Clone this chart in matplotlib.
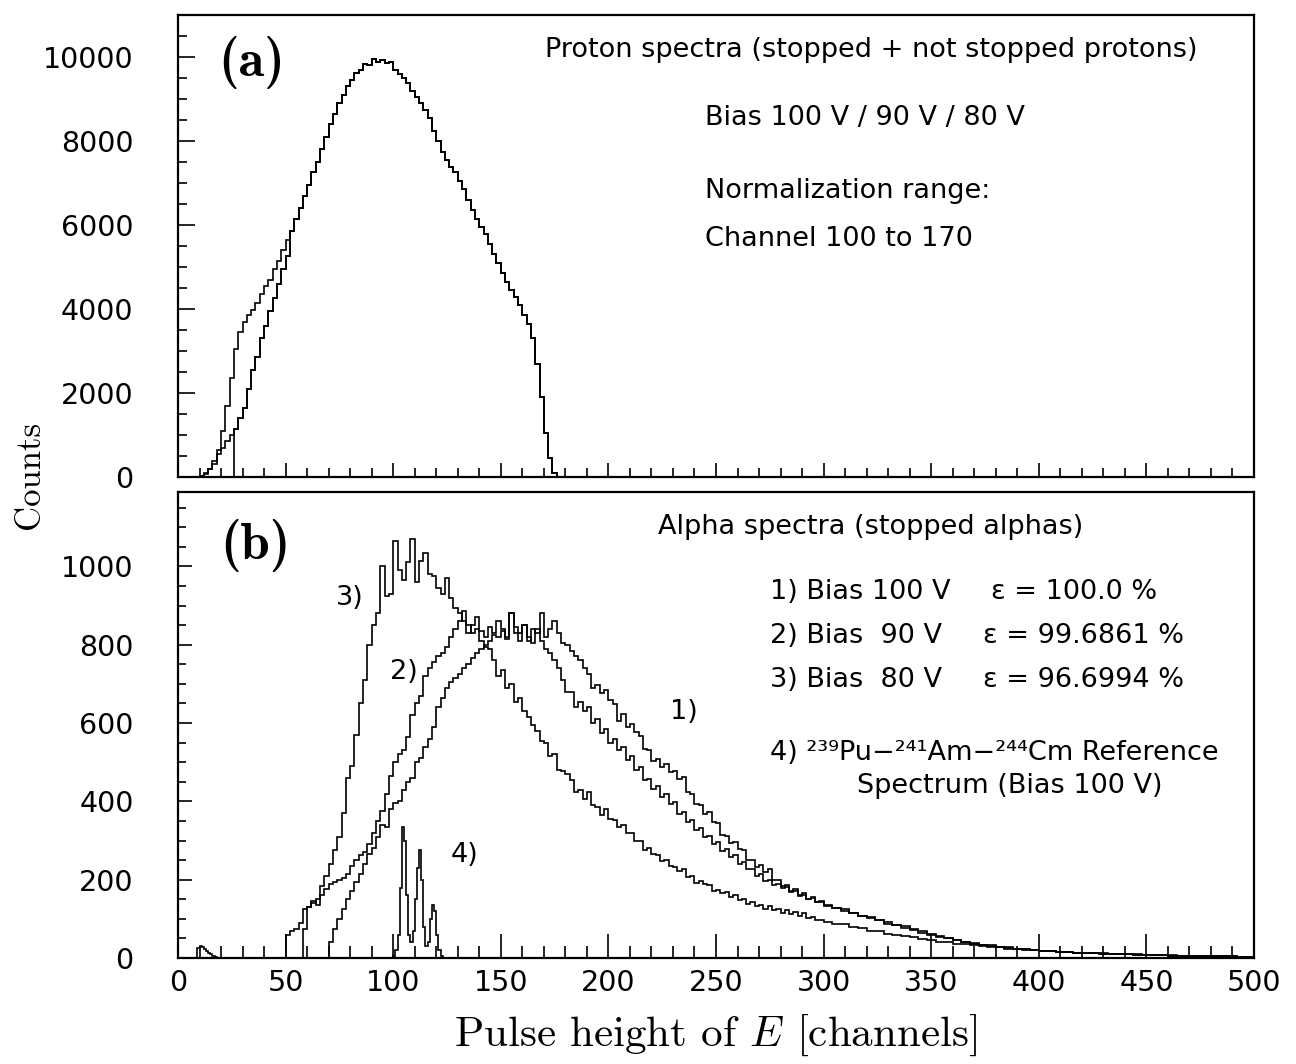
import numpy as np
import matplotlib
matplotlib.use("Agg")
import matplotlib.pyplot as plt
from matplotlib.ticker import MultipleLocator

# ---------------- data ----------------
# (a) proton spectra, 2-channel bins
proton_common_start = 52
proton_common = [5850, 6150, 6400, 6700, 6950, 7250, 7500, 7800, 8100, 8400,
                 8650, 8900, 9100, 9300, 9450, 9620, 9680, 9830, 9800, 9950,
                 9880, 9930, 9850, 9870, 9700, 9600, 9500, 9380, 9200, 9050,
                 8900, 8750, 8550, 8250, 8000, 7750, 7550, 7380, 7250, 7050,
                 6850, 6600, 6350, 6150, 5950, 5780, 5550, 5300, 5100, 4850,
                 4650, 4450, 4280, 4100, 3850, 3650, 3300, 2700, 1900, 1050,
                 450, 100]
proton_low_start = 8
proton_low_a = [0, 20, 80, 180, 300, 650, 1100, 1700, 2350, 3050, 3450, 3700,
                3850, 3980, 4150, 4350, 4550, 4700, 4950, 5150, 5400, 5650]
proton_low_b = [0, 20, 100, 200, 380, 550, 700, 850, 1000, 1150, 1400, 1650,
                2100, 2550, 2850, 3300, 3600, 3950, 4250, 4600, 4950, 5250]
proton_c_cut = 26  # 80 V curve begins here

# (b) alpha spectra, 2-channel bins up to channel 300, 4-channel bins after
alpha3_start = 50
alpha3 = [60, 70, 75, 90, 125, 130, 140, 150, 185, 210,
          240, 275, 310, 370, 460, 490, 570, 650, 710, 800,
          850, 880, 1000, 925, 930, 1065, 990, 965, 1010, 1070,
          960, 1015, 1035, 980, 975, 945, 930, 970, 920, 895,
          880, 860, 850, 830, 840, 810, 795, 790, 760, 720,
          735, 690, 700, 655, 665, 630, 615, 595, 580, 555,
          550, 515, 520, 480, 478, 470, 455, 425, 430, 405,
          425, 390, 385, 365, 380, 355, 352, 335, 340, 320,
          318, 300, 298, 276, 282, 265, 262, 248, 250, 236,
          232, 222, 226, 206, 210, 192, 196, 188, 186, 172,
          174, 165, 168, 155, 160, 148, 150, 138, 144, 132,
          136, 126, 132, 122, 126, 116, 122, 112, 118, 108,
          114, 102, 104, 96, 98]
alpha3_tail = [92, 86, 86, 78, 76, 70, 70, 62, 60, 55, 54, 48, 47, 42, 41, 36,
               35, 32, 31, 28, 27, 24, 23, 21, 20, 18, 17, 16, 15, 14, 13, 12,
               12, 10, 10, 9, 9, 8, 8, 7, 7, 6, 6, 5, 5, 5, 4, 4, 3, 3]

alpha2_start = 58
alpha2 = [75, 130, 145, 135, 160, 175, 190, 195, 200, 205,
          215, 235, 250, 262, 270, 290, 320, 350, 375, 420,
          465, 500, 520, 530, 565, 620, 650, 670, 720, 740,
          755, 770, 780, 795, 820, 840, 860, 885, 830, 850,
          870, 835, 820, 845, 830, 860, 840, 820, 880, 830,
          810, 850, 820, 805, 840, 810, 790, 780, 760, 740,
          710, 680, 680, 640, 655, 630, 640, 600, 610, 575,
          585, 550, 560, 530, 540, 505, 515, 480, 488, 455,
          458, 432, 440, 412, 418, 392, 398, 368, 372, 348,
          352, 328, 332, 308, 312, 290, 296, 274, 278, 258,
          262, 240, 244, 226, 228, 210, 214, 196, 200, 186,
          190, 178, 182, 168, 172, 158, 162, 150, 154, 142,
          144]
alpha2_tail = [136, 128, 124, 114, 108, 102, 96, 88, 84, 76, 72, 65, 60, 54,
               50, 45, 41, 37, 34, 31, 28, 26, 24, 22, 20, 18, 17, 16, 15, 14,
               13, 12, 11, 10, 10, 9, 8, 8, 7, 7, 6, 6, 5, 5, 5, 4, 4, 4, 3, 3]

alpha1_start = 70
alpha1 = [40, 75, 100, 125, 150, 170, 195, 215, 240, 265,
          280, 310, 340, 335, 380, 395, 400, 430, 450, 460,
          500, 510, 540, 560, 590, 640, 665, 690, 705, 715,
          725, 740, 750, 765, 780, 790, 800, 810, 825, 820,
          835, 815, 880, 845, 830, 850, 810, 840, 830, 880,
          820, 840, 860, 830, 805, 800, 785, 770, 760, 740,
          725, 690, 698, 676, 684, 660, 648, 606, 622, 590,
          598, 578, 566, 534, 530, 504, 508, 488, 496, 474,
          478, 458, 462, 424, 420, 394, 390, 368, 372, 348,
          346, 314, 312, 294, 296, 278, 276, 250, 250, 232,
          238, 220, 226, 200, 200, 184, 186, 170, 176, 162,
          166, 150, 156, 142, 146]
alpha1_tail = [132, 128, 120, 116, 108, 104, 96, 92, 85, 81, 74, 69, 62, 57,
               51, 47, 42, 39, 34, 32, 28, 27, 24, 23, 20, 19, 17, 16, 15, 14,
               13, 12, 11, 11, 10, 9, 8, 8, 7, 7, 6, 6, 5, 5, 5, 4, 4, 4, 3, 3]

low_bump_start = 9
low_bump = [25, 30, 28, 22, 18, 14, 10, 6, 3]

ref4_start = 100
ref4 = [5, 20, 60, 180, 335, 300, 160, 60, 40, 70, 150, 230, 276, 200, 80,
        30, 40, 100, 135, 120, 60, 20, 5]

top_yticks = [0, 2000, 4000, 6000, 8000, 10000]
bot_yticks = [0, 200, 400, 600, 800, 1000]
xticks = [0, 50, 100, 150, 200, 250, 300, 350, 400, 450, 500]

# ---------------- figure ----------------
W, H = 1296, 1064
fig = plt.figure(figsize=(W / 100, H / 100), dpi=100)

def frac(l, t, r, b):
    return [l / W, 1 - b / H, (r - l) / W, (b - t) / H]

ax1 = fig.add_axes(frac(178, 15, 1254, 477))
ax2 = fig.add_axes(frac(178, 492, 1254, 958))

LW = 1.2
SANS = ["DejaVu Sans"]

def edges_for(start, n, width):
    return start + width * np.arange(n + 1)

def draw(ax, start, main, tail=None):
    e = edges_for(start, len(main), 2)
    v = list(main)
    if tail is not None:
        e2 = edges_for(e[-1], len(tail), 4)
        e = np.concatenate([e, e2[1:]])
        v = v + list(tail)
    ax.stairs(v, e, baseline=0, color="k", lw=LW)

# proton curves
pa = proton_low_a + proton_common
pb = proton_low_b + proton_common
draw(ax1, proton_low_start, pa)
draw(ax1, proton_low_start, pb)
k = (proton_c_cut - proton_low_start) // 2
draw(ax1, proton_c_cut, pb[k:])

# alpha curves
draw(ax2, alpha3_start, alpha3, alpha3_tail)
draw(ax2, alpha2_start, alpha2, alpha2_tail)
draw(ax2, alpha1_start, alpha1, alpha1_tail)
ax2.stairs(low_bump, low_bump_start + np.arange(len(low_bump) + 1),
           baseline=0, color="k", lw=LW)
ax2.stairs(ref4, ref4_start + np.arange(len(ref4) + 1),
           baseline=0, color="k", lw=LW)

for ax in (ax1, ax2):
    ax.set_xlim(0, 500)
    ax.xaxis.set_major_locator(MultipleLocator(50))
    ax.xaxis.set_minor_locator(MultipleLocator(10))
    for s in ax.spines.values():
        s.set_linewidth(1.6)
    ax.tick_params(axis="both", which="both", direction="in",
                   top=False, right=False, width=1.2, colors="k")

ax1.set_ylim(0, 11000)
ax1.set_yticks(top_yticks)
ax1.yaxis.set_minor_locator(MultipleLocator(500))
ax1.tick_params(axis="x", which="major", length=10, labelbottom=False)
ax1.tick_params(axis="x", which="minor", length=6.5)
ax1.tick_params(axis="y", which="major", length=12, pad=32)
ax1.tick_params(axis="y", which="minor", length=6.5)

ax2.set_ylim(0, 1190)
ax2.set_yticks(bot_yticks)
ax2.yaxis.set_minor_locator(MultipleLocator(50))
ax2.set_xticks(xticks)
ax2.tick_params(axis="x", which="major", length=17, pad=8)
ax2.tick_params(axis="x", which="minor", length=8.5)
ax2.tick_params(axis="y", which="major", length=10, pad=32)
ax2.tick_params(axis="y", which="minor", length=6)

for ax in (ax1, ax2):
    for lab in ax.get_xticklabels() + ax.get_yticklabels():
        lab.set_fontfamily(SANS)
        lab.set_fontsize(20.5)

# ---- annotations ----
txt = dict(family=SANS, fontsize=19.5, color="k", va="center", ha="left")
serif_b = dict(family="cmb10", fontsize=38, va="center", ha="left")

ax1.text(0.037, 0.898, "(a)", transform=ax1.transAxes, **serif_b)
ax1.text(0.341, 0.924, "Proton spectra (stopped + not stopped protons)",
         transform=ax1.transAxes, **txt)
ax1.text(0.490, 0.776, "Bias 100 V / 90 V / 80 V", transform=ax1.transAxes, **txt)
ax1.text(0.490, 0.620, "Normalization range:", transform=ax1.transAxes, **txt)
ax1.text(0.490, 0.515, "Channel 100 to 170", transform=ax1.transAxes, **txt)

ax2.text(0.039, 0.886, "(b)", transform=ax2.transAxes, **serif_b)
ax2.text(0.446, 0.925, "Alpha spectra (stopped alphas)",
         transform=ax2.transAxes, **txt)
ax2.text(0.550, 0.785, "1) Bias 100 V", transform=ax2.transAxes, **txt)
ax2.text(0.550, 0.691, "2) Bias  90 V", transform=ax2.transAxes, **txt)
ax2.text(0.550, 0.597, "3) Bias  80 V", transform=ax2.transAxes, **txt)
ax2.text(0.756, 0.785, "ε = 100.0 %", transform=ax2.transAxes, **txt)
ax2.text(0.748, 0.691, "ε = 99.6861 %", transform=ax2.transAxes, **txt)
ax2.text(0.748, 0.597, "ε = 96.6994 %", transform=ax2.transAxes, **txt)
ax2.text(0.550, 0.440, "4) ²³⁹Pu\u2212²⁴¹Am\u2212²⁴⁴Cm Reference",
         transform=ax2.transAxes, **txt)
ax2.text(0.631, 0.369, "Spectrum (Bias 100 V)", transform=ax2.transAxes, **txt)

lab = dict(txt)
lab["ha"] = "center"
ax2.text(80, 920, "3)", **lab)
ax2.text(105, 730, "2)", **lab)
ax2.text(235, 628, "1)", **lab)
ax2.text(133, 263, "4)", **lab)

plt.rcParams["mathtext.fontset"] = "cm"
fig.text(30 / W, 1 - 475 / H, "Counts", rotation=90, family="cmr10",
         fontsize=25, ha="center", va="center")
fig.text(716 / W, 1 - 1035 / H, r"Pulse height of $E$ [channels]",
         family="cmr10", fontsize=31, ha="center", va="center")

fig.savefig("out.png", dpi=100, facecolor="white")
